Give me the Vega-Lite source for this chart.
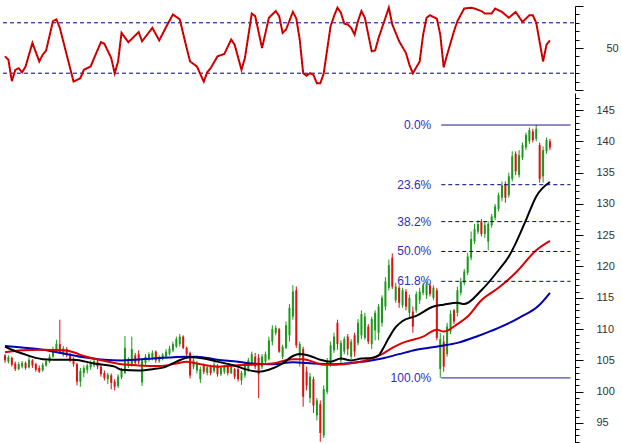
{
"$schema":"https://vega.github.io/schema/vega-lite/v6.json",
"background":"white",
"padding":{"left":0,"right":0,"top":3,"bottom":0},
"spacing":2,
"config":{"view":{"stroke":null},"axis":{"labelFont":"Liberation Sans","labelFontSize":11,"labelColor":"#333333"}},
"datasets":{
"ohlc":[
{"i":0,"o":105.8,"h":106.0,"l":104.6,"c":105.0},
{"i":1,"o":104.8,"h":105.8,"l":104.5,"c":105.5},
{"i":2,"o":105.4,"h":105.6,"l":104.0,"c":104.3},
{"i":3,"o":104.5,"h":104.8,"l":103.3,"c":103.6},
{"i":4,"o":103.6,"h":104.7,"l":103.4,"c":104.4},
{"i":5,"o":104.0,"h":104.9,"l":103.7,"c":104.6},
{"i":6,"o":104.6,"h":104.8,"l":103.5,"c":103.8},
{"i":7,"o":103.9,"h":105.6,"l":103.7,"c":105.1},
{"i":8,"o":105.0,"h":105.2,"l":103.8,"c":104.2},
{"i":9,"o":104.4,"h":104.6,"l":103.2,"c":103.5},
{"i":10,"o":103.8,"h":104.2,"l":103.0,"c":103.2},
{"i":11,"o":103.4,"h":104.6,"l":103.2,"c":104.3},
{"i":12,"o":104.2,"h":105.2,"l":104.0,"c":104.9},
{"i":13,"o":104.8,"h":106.0,"l":104.6,"c":105.6},
{"i":14,"o":105.6,"h":107.2,"l":105.4,"c":106.8},
{"i":15,"o":106.5,"h":108.3,"l":106.2,"c":107.6},
{"i":16,"o":107.6,"h":111.5,"l":106.0,"c":106.2},
{"i":17,"o":106.0,"h":107.3,"l":105.6,"c":106.9},
{"i":18,"o":106.8,"h":107.1,"l":105.5,"c":105.9},
{"i":19,"o":106.0,"h":106.2,"l":104.7,"c":105.0},
{"i":20,"o":105.2,"h":105.5,"l":104.0,"c":104.4},
{"i":21,"o":104.4,"h":104.6,"l":101.0,"c":101.6},
{"i":22,"o":101.6,"h":103.8,"l":100.8,"c":103.3},
{"i":23,"o":103.0,"h":104.2,"l":102.3,"c":103.8},
{"i":24,"o":103.5,"h":104.5,"l":102.9,"c":104.2},
{"i":25,"o":103.9,"h":105.0,"l":103.5,"c":104.6},
{"i":26,"o":104.2,"h":105.3,"l":103.9,"c":104.9},
{"i":27,"o":104.8,"h":105.1,"l":103.6,"c":104.0},
{"i":28,"o":104.0,"h":104.3,"l":102.4,"c":102.8},
{"i":29,"o":103.0,"h":103.4,"l":101.8,"c":102.2},
{"i":30,"o":102.0,"h":103.0,"l":101.2,"c":102.7},
{"i":31,"o":102.6,"h":102.9,"l":100.4,"c":101.4},
{"i":32,"o":101.6,"h":102.0,"l":100.2,"c":100.8},
{"i":33,"o":100.9,"h":102.8,"l":100.6,"c":102.4},
{"i":34,"o":102.3,"h":103.8,"l":102.0,"c":103.4},
{"i":35,"o":103.0,"h":108.9,"l":102.8,"c":107.0},
{"i":36,"o":104.2,"h":105.5,"l":103.8,"c":105.0},
{"i":37,"o":104.3,"h":108.8,"l":104.0,"c":106.8},
{"i":38,"o":105.8,"h":106.2,"l":104.3,"c":104.6},
{"i":39,"o":106.0,"h":106.6,"l":104.4,"c":104.8},
{"i":40,"o":101.5,"h":105.3,"l":100.9,"c":105.0},
{"i":41,"o":104.6,"h":106.0,"l":104.3,"c":105.6},
{"i":42,"o":105.2,"h":106.3,"l":104.8,"c":106.0},
{"i":43,"o":105.5,"h":106.6,"l":105.0,"c":106.2},
{"i":44,"o":106.4,"h":106.6,"l":104.6,"c":105.0},
{"i":45,"o":104.9,"h":105.8,"l":104.6,"c":105.5},
{"i":46,"o":105.2,"h":106.2,"l":105.0,"c":105.9},
{"i":47,"o":105.6,"h":106.8,"l":105.4,"c":106.4},
{"i":48,"o":106.0,"h":107.3,"l":105.8,"c":106.9},
{"i":49,"o":106.6,"h":108.0,"l":106.3,"c":107.6},
{"i":50,"o":107.2,"h":108.8,"l":107.0,"c":108.4},
{"i":51,"o":107.6,"h":109.2,"l":107.2,"c":108.8},
{"i":52,"o":108.8,"h":109.0,"l":106.8,"c":107.0},
{"i":53,"o":107.0,"h":107.2,"l":105.6,"c":106.0},
{"i":54,"o":106.2,"h":106.4,"l":102.1,"c":102.6},
{"i":55,"o":104.0,"h":105.3,"l":103.6,"c":105.0},
{"i":56,"o":103.4,"h":104.9,"l":102.9,"c":104.6},
{"i":57,"o":102.0,"h":104.0,"l":101.4,"c":103.6},
{"i":58,"o":104.2,"h":104.5,"l":102.8,"c":103.2},
{"i":59,"o":103.0,"h":104.2,"l":102.6,"c":103.9},
{"i":60,"o":104.0,"h":104.3,"l":102.6,"c":103.0},
{"i":61,"o":103.3,"h":104.7,"l":103.0,"c":104.3},
{"i":62,"o":104.2,"h":104.4,"l":102.4,"c":102.8},
{"i":63,"o":102.8,"h":104.1,"l":102.5,"c":103.8},
{"i":64,"o":103.2,"h":104.3,"l":102.8,"c":104.0},
{"i":65,"o":104.0,"h":104.2,"l":102.6,"c":103.0},
{"i":66,"o":103.0,"h":104.4,"l":102.8,"c":104.0},
{"i":67,"o":103.6,"h":103.8,"l":102.0,"c":102.4},
{"i":68,"o":103.6,"h":104.3,"l":101.6,"c":102.0},
{"i":69,"o":101.8,"h":103.3,"l":101.1,"c":103.0},
{"i":70,"o":102.6,"h":104.6,"l":102.2,"c":104.2},
{"i":71,"o":103.6,"h":105.4,"l":103.2,"c":105.0},
{"i":72,"o":104.6,"h":106.4,"l":104.2,"c":106.0},
{"i":73,"o":105.6,"h":106.2,"l":103.6,"c":104.0},
{"i":74,"o":105.4,"h":106.0,"l":99.0,"c":102.8},
{"i":75,"o":104.0,"h":106.0,"l":103.6,"c":105.6},
{"i":76,"o":104.8,"h":106.4,"l":104.4,"c":106.0},
{"i":77,"o":105.2,"h":108.8,"l":105.0,"c":108.2},
{"i":78,"o":108.0,"h":110.6,"l":107.4,"c":110.0},
{"i":79,"o":109.4,"h":110.6,"l":109.0,"c":110.2},
{"i":80,"o":110.0,"h":110.2,"l":106.2,"c":106.4},
{"i":81,"o":105.6,"h":107.5,"l":105.2,"c":107.2},
{"i":82,"o":107.0,"h":111.2,"l":106.8,"c":110.6},
{"i":83,"o":109.0,"h":114.0,"l":108.0,"c":113.4},
{"i":84,"o":112.0,"h":117.0,"l":111.5,"c":116.0},
{"i":85,"o":116.2,"h":116.8,"l":107.0,"c":107.4},
{"i":86,"o":105.6,"h":108.0,"l":104.0,"c":107.6},
{"i":87,"o":106.8,"h":107.2,"l":97.6,"c":99.2},
{"i":88,"o":103.2,"h":104.0,"l":100.2,"c":101.0},
{"i":89,"o":99.0,"h":103.0,"l":98.2,"c":102.4},
{"i":90,"o":102.0,"h":102.4,"l":96.6,"c":97.8},
{"i":91,"o":96.2,"h":99.0,"l":95.4,"c":98.6},
{"i":92,"o":98.0,"h":98.6,"l":92.0,"c":93.4},
{"i":93,"o":93.0,"h":101.0,"l":92.6,"c":100.4},
{"i":94,"o":100.0,"h":105.4,"l":99.6,"c":104.8},
{"i":95,"o":104.6,"h":108.0,"l":104.0,"c":107.4},
{"i":96,"o":106.6,"h":109.4,"l":106.2,"c":108.8},
{"i":97,"o":111.0,"h":111.5,"l":106.7,"c":107.6},
{"i":98,"o":105.0,"h":108.2,"l":104.4,"c":107.8},
{"i":99,"o":106.4,"h":108.8,"l":106.0,"c":108.4},
{"i":100,"o":108.8,"h":109.2,"l":105.8,"c":106.8},
{"i":101,"o":105.6,"h":108.4,"l":105.2,"c":108.0},
{"i":102,"o":109.0,"h":109.4,"l":105.6,"c":106.4},
{"i":103,"o":107.8,"h":111.6,"l":107.4,"c":111.0},
{"i":104,"o":109.0,"h":113.0,"l":108.4,"c":112.4},
{"i":105,"o":108.6,"h":112.6,"l":108.3,"c":112.0},
{"i":106,"o":110.4,"h":110.8,"l":107.6,"c":108.0},
{"i":107,"o":107.6,"h":112.0,"l":106.8,"c":111.6},
{"i":108,"o":109.8,"h":113.0,"l":108.2,"c":112.6},
{"i":109,"o":109.4,"h":114.0,"l":108.2,"c":113.6},
{"i":110,"o":111.0,"h":115.4,"l":110.4,"c":115.0},
{"i":111,"o":113.6,"h":118.3,"l":113.0,"c":117.6},
{"i":112,"o":116.6,"h":121.1,"l":116.2,"c":120.2},
{"i":113,"o":121.4,"h":122.1,"l":116.4,"c":116.8},
{"i":114,"o":114.6,"h":117.4,"l":114.2,"c":116.8},
{"i":115,"o":116.6,"h":117.0,"l":113.4,"c":114.2},
{"i":116,"o":113.8,"h":116.6,"l":113.4,"c":116.2},
{"i":117,"o":116.0,"h":116.4,"l":113.0,"c":113.6},
{"i":118,"o":112.6,"h":115.5,"l":111.8,"c":115.0},
{"i":119,"o":112.8,"h":113.6,"l":109.4,"c":110.4},
{"i":120,"o":113.0,"h":116.0,"l":112.6,"c":115.6},
{"i":121,"o":114.6,"h":116.6,"l":114.0,"c":116.0},
{"i":122,"o":115.8,"h":117.4,"l":115.4,"c":117.0},
{"i":123,"o":115.4,"h":117.6,"l":114.8,"c":117.2},
{"i":124,"o":117.0,"h":117.3,"l":115.2,"c":115.6},
{"i":125,"o":115.0,"h":117.0,"l":114.6,"c":116.6},
{"i":126,"o":116.2,"h":116.6,"l":108.2,"c":108.6},
{"i":127,"o":103.6,"h":109.4,"l":102.2,"c":108.4},
{"i":128,"o":108.0,"h":109.0,"l":103.2,"c":104.0},
{"i":129,"o":106.0,"h":111.0,"l":105.6,"c":110.4},
{"i":130,"o":109.6,"h":113.0,"l":109.2,"c":112.4},
{"i":131,"o":113.0,"h":113.2,"l":110.8,"c":111.2},
{"i":132,"o":112.6,"h":116.8,"l":112.0,"c":116.2},
{"i":133,"o":115.8,"h":118.2,"l":115.4,"c":117.6},
{"i":134,"o":117.4,"h":119.6,"l":117.0,"c":119.2},
{"i":135,"o":119.0,"h":122.2,"l":118.6,"c":121.6},
{"i":136,"o":121.4,"h":125.6,"l":121.0,"c":124.4},
{"i":137,"o":124.0,"h":126.8,"l":123.6,"c":126.0},
{"i":138,"o":125.6,"h":127.4,"l":125.2,"c":126.8},
{"i":139,"o":127.2,"h":127.6,"l":124.8,"c":125.2},
{"i":140,"o":125.2,"h":127.2,"l":124.6,"c":126.6},
{"i":141,"o":124.0,"h":127.2,"l":122.6,"c":126.8},
{"i":142,"o":126.6,"h":128.4,"l":126.2,"c":128.0},
{"i":143,"o":127.8,"h":130.0,"l":127.4,"c":129.6},
{"i":144,"o":129.2,"h":131.8,"l":128.8,"c":131.4},
{"i":145,"o":131.0,"h":133.6,"l":130.4,"c":133.0},
{"i":146,"o":133.2,"h":133.6,"l":130.2,"c":131.0},
{"i":147,"o":131.4,"h":135.0,"l":131.0,"c":134.4},
{"i":148,"o":134.0,"h":138.4,"l":133.6,"c":137.6},
{"i":149,"o":138.0,"h":138.4,"l":134.6,"c":135.2},
{"i":150,"o":134.6,"h":138.6,"l":134.2,"c":137.8},
{"i":151,"o":137.4,"h":139.8,"l":137.0,"c":139.4},
{"i":152,"o":139.0,"h":141.4,"l":138.6,"c":141.0},
{"i":153,"o":140.0,"h":142.2,"l":139.6,"c":141.8},
{"i":154,"o":141.6,"h":142.0,"l":139.8,"c":140.2},
{"i":155,"o":140.4,"h":142.6,"l":140.0,"c":142.0},
{"i":156,"o":139.4,"h":139.8,"l":133.4,"c":134.0},
{"i":157,"o":134.4,"h":139.2,"l":133.4,"c":138.6},
{"i":158,"o":138.4,"h":140.6,"l":138.0,"c":140.2},
{"i":159,"o":140.0,"h":140.4,"l":138.6,"c":139.0}
],
"stoch":[
{"i":0,"k":40},{"i":1,"k":36},{"i":2,"k":10.5},{"i":3,"k":24},{"i":4,"k":26},{"i":5,"k":21},{"i":6,"k":28},{"i":8,"k":56},{"i":10,"k":34},{"i":11,"k":42},{"i":12,"k":47},{"i":14,"k":82},{"i":15,"k":84},{"i":16,"k":74},{"i":18,"k":42},{"i":20,"k":10},{"i":22,"k":14},{"i":23,"k":24},{"i":25,"k":28},{"i":26,"k":38},{"i":28,"k":57},{"i":29,"k":55},{"i":31,"k":38},{"i":32,"k":20},{"i":33,"k":34},{"i":34,"k":68},{"i":36,"k":57},{"i":39,"k":69},{"i":40,"k":58},{"i":43,"k":74},{"i":45,"k":59},{"i":47,"k":75},{"i":49,"k":90},{"i":51,"k":84},{"i":53,"k":50},{"i":54,"k":34},{"i":56,"k":28},{"i":58,"k":10},{"i":59,"k":21},{"i":60,"k":26},{"i":62,"k":40},{"i":64,"k":43},{"i":66,"k":60},{"i":67,"k":54},{"i":69,"k":24},{"i":70,"k":38},{"i":72,"k":91},{"i":73,"k":88},{"i":75,"k":50},{"i":76,"k":68},{"i":77,"k":86},{"i":79,"k":94},{"i":80,"k":88},{"i":81,"k":68},{"i":82,"k":72},{"i":84,"k":93},{"i":85,"k":85},{"i":86,"k":60},{"i":87,"k":20},{"i":88,"k":17},{"i":89,"k":20},{"i":90,"k":18},{"i":91,"k":8},{"i":92,"k":8},{"i":93,"k":20},{"i":95,"k":76},{"i":96,"k":88},{"i":97,"k":98},{"i":98,"k":92},{"i":99,"k":79},{"i":100,"k":78},{"i":101,"k":74},{"i":102,"k":66},{"i":103,"k":82},{"i":104,"k":94},{"i":105,"k":86},{"i":107,"k":46},{"i":108,"k":47},{"i":109,"k":62},{"i":111,"k":86},{"i":112,"k":98},{"i":113,"k":78},{"i":115,"k":58},{"i":117,"k":44},{"i":118,"k":30},{"i":119,"k":20},{"i":121,"k":34},{"i":122,"k":66},{"i":123,"k":86},{"i":124,"k":89},{"i":126,"k":85},{"i":127,"k":66},{"i":128,"k":27},{"i":129,"k":42},{"i":131,"k":70},{"i":132,"k":82},{"i":134,"k":97},{"i":136,"k":98},{"i":137,"k":97},{"i":139,"k":94},{"i":140,"k":91},{"i":142,"k":91},{"i":143,"k":97},{"i":145,"k":93},{"i":147,"k":86},{"i":149,"k":93},{"i":151,"k":81},{"i":153,"k":89},{"i":154,"k":89},{"i":155,"k":80},{"i":157,"k":34},{"i":158,"k":54},{"i":159,"k":59}
],
"ma":[
{"s":"b","i":0,"v":107.3},{"s":"b","i":11,"v":106.7},{"s":"b","i":23,"v":105.5},{"s":"b","i":29,"v":105.1},{"s":"b","i":34,"v":105.0},{"s":"b","i":43,"v":105.3},{"s":"b","i":53,"v":105.6},{"s":"b","i":56,"v":105.6},{"s":"b","i":62,"v":105.1},{"s":"b","i":68,"v":104.8},{"s":"b","i":72,"v":104.5},{"s":"b","i":78,"v":104.4},{"s":"b","i":84,"v":104.7},{"s":"b","i":90,"v":104.5},{"s":"b","i":96,"v":104.4},{"s":"b","i":101,"v":104.6},{"s":"b","i":106,"v":104.9},{"s":"b","i":110,"v":105.3},{"s":"b","i":115,"v":106.0},{"s":"b","i":120,"v":106.7},{"s":"b","i":127,"v":107.3},{"s":"b","i":132,"v":107.8},{"s":"b","i":138,"v":108.9},{"s":"b","i":144,"v":110.2},{"s":"b","i":150,"v":111.8},{"s":"b","i":156,"v":113.9},{"s":"b","i":159,"v":115.8},
{"s":"r","i":0,"v":106.3},{"s":"r","i":5,"v":106.6},{"s":"r","i":11,"v":106.7},{"s":"r","i":17,"v":106.6},{"s":"r","i":20,"v":106.3},{"s":"r","i":23,"v":105.7},{"s":"r","i":29,"v":104.9},{"s":"r","i":34,"v":104.4},{"s":"r","i":39,"v":104.2},{"s":"r","i":45,"v":104.1},{"s":"r","i":50,"v":104.5},{"s":"r","i":53,"v":104.8},{"s":"r","i":56,"v":104.5},{"s":"r","i":62,"v":104.0},{"s":"r","i":67,"v":104.2},{"s":"r","i":72,"v":104.3},{"s":"r","i":78,"v":104.5},{"s":"r","i":84,"v":105.2},{"s":"r","i":87,"v":105.2},{"s":"r","i":93,"v":104.3},{"s":"r","i":99,"v":104.4},{"s":"r","i":102,"v":104.6},{"s":"r","i":106,"v":105.1},{"s":"r","i":110,"v":106.0},{"s":"r","i":113,"v":107.0},{"s":"r","i":116,"v":107.8},{"s":"r","i":122,"v":108.8},{"s":"r","i":126,"v":109.9},{"s":"r","i":128,"v":109.6},{"s":"r","i":132,"v":110.8},{"s":"r","i":135,"v":112.0},{"s":"r","i":139,"v":114.6},{"s":"r","i":144,"v":116.6},{"s":"r","i":149,"v":119.0},{"s":"r","i":155,"v":122.6},{"s":"r","i":159,"v":124.1},
{"s":"k","i":0,"v":107.2},{"s":"k","i":2,"v":106.7},{"s":"k","i":5,"v":106.1},{"s":"k","i":11,"v":105.2},{"s":"k","i":17,"v":105.1},{"s":"k","i":20,"v":105.1},{"s":"k","i":26,"v":104.5},{"s":"k","i":32,"v":104.0},{"s":"k","i":34,"v":103.5},{"s":"k","i":39,"v":103.4},{"s":"k","i":43,"v":103.6},{"s":"k","i":47,"v":104.0},{"s":"k","i":50,"v":104.8},{"s":"k","i":54,"v":105.5},{"s":"k","i":58,"v":105.3},{"s":"k","i":62,"v":104.8},{"s":"k","i":66,"v":104.3},{"s":"k","i":68,"v":104.0},{"s":"k","i":70,"v":103.6},{"s":"k","i":74,"v":103.2},{"s":"k","i":77,"v":103.5},{"s":"k","i":81,"v":104.5},{"s":"k","i":84,"v":105.7},{"s":"k","i":86,"v":106.0},{"s":"k","i":89,"v":105.7},{"s":"k","i":92,"v":105.1},{"s":"k","i":95,"v":104.8},{"s":"k","i":98,"v":105.3},{"s":"k","i":101,"v":105.0},{"s":"k","i":104,"v":105.3},{"s":"k","i":107,"v":105.4},{"s":"k","i":109,"v":105.8},{"s":"k","i":110,"v":106.6},{"s":"k","i":112,"v":108.6},{"s":"k","i":114,"v":110.3},{"s":"k","i":116,"v":111.3},{"s":"k","i":120,"v":112.1},{"s":"k","i":125,"v":113.6},{"s":"k","i":128,"v":113.9},{"s":"k","i":132,"v":114.2},{"s":"k","i":134,"v":114.0},{"s":"k","i":139,"v":116.2},{"s":"k","i":144,"v":119.4},{"s":"k","i":147,"v":121.6},{"s":"k","i":149,"v":123.7},{"s":"k","i":152,"v":127.4},{"s":"k","i":155,"v":131.2},{"s":"k","i":159,"v":133.5}
],
"fib":[
{"lab":"0.0%","v":142.6,"t":"solid"},{"lab":"23.6%","v":133.07,"t":"dash"},{"lab":"38.2%","v":127.17,"t":"dash"},{"lab":"50.0%","v":122.4,"t":"dash"},{"lab":"61.8%","v":117.63,"t":"dash"},{"lab":"100.0%","v":102.2,"t":"solid"}
],
"band":[{"lv":80},{"lv":20}]
},
"vconcat":[
{
"width":622,"height":84,
"layer":[
{"data":{"name":"band"},"mark":{"type":"rule","color":"#000080","strokeDash":[4,3],"strokeWidth":1},
 "encoding":{"x":{"datum":-0.58,"type":"quantitative","scale":{"domain":[-0.58,180.9],"nice":false,"zero":false},"axis":null},"x2":{"datum":166.2},
 "y":{"field":"lv","type":"quantitative","scale":{"domain":[0,100],"nice":false,"zero":false},"axis":{"orient":"right","offset":-50,"values":[10,20,30,40,60,70,80,90],"tickSize":4,"labels":false,"domain":false,"grid":false,"title":null,"tickColor":"#000000"}}}},
{"data":{"name":"stoch"},"mark":{"type":"line","color":"#e00000","strokeWidth":2},
 "encoding":{"x":{"field":"i","type":"quantitative","scale":{"domain":[-0.58,180.9],"nice":false,"zero":false},"axis":{"orient":"bottom","offset":2,"domainColor":"#808080","domainWidth":2,"ticks":false,"labels":false,"grid":false,"title":null}},
 "y":{"field":"k","type":"quantitative","scale":{"domain":[0,100],"nice":false,"zero":false},"axis":{"orient":"right","offset":-50,"values":[0,50,100],"tickSize":8,"labelPadding":23,"labelExpr":"datum.value == 50 ? '50' : ''","grid":false,"title":null,"domainColor":"#000000","tickColor":"#000000"}}}},
{"data":{"name":"stoch"},"mark":{"type":"line","color":"#000000","strokeWidth":0.6,"strokeDash":[1,3]},
 "encoding":{"x":{"field":"i","type":"quantitative","scale":{"domain":[-0.58,180.9],"nice":false,"zero":false},"axis":null},
 "y":{"field":"k","type":"quantitative","scale":{"domain":[0,100],"nice":false,"zero":false},"axis":null}}}
],
"resolve":{"axis":{"y":"independent"}}
},
{
"width":622,"height":350,
"layer":[
{"data":{"name":"ohlc"},"mark":{"type":"rule","strokeWidth":1},
 "encoding":{"x":{"field":"i","type":"quantitative","scale":{"domain":[-0.58,180.9],"nice":false,"zero":false},"axis":null},
 "y":{"field":"l","type":"quantitative","scale":{"domain":[91.8,147.72],"nice":false,"zero":false},"axis":{"orient":"right","offset":-50,"values":[95,100,105,110,115,120,125,130,135,140,145],"tickSize":8,"labelPadding":13,"grid":false,"title":null,"domainColor":"#000000","tickColor":"#000000"}},
 "y2":{"field":"h"},
 "color":{"condition":{"test":"datum.c >= datum.o","value":"#1a9a1a"},"value":"#dd1111"}}},
{"data":{"name":"ohlc"},"mark":{"type":"rule","strokeWidth":2},
 "encoding":{"x":{"field":"i","type":"quantitative","scale":{"domain":[-0.58,180.9],"nice":false,"zero":false},"axis":null},
 "y":{"field":"o","type":"quantitative","scale":{"domain":[91.8,147.72],"nice":false,"zero":false},"axis":{"orient":"right","offset":-50,"values":[92,93,94,96,97,98,99,101,102,103,104,106,107,108,109,111,112,113,114,116,117,118,119,121,122,123,124,126,127,128,129,131,132,133,134,136,137,138,139,141,142,143,144,146,147],"tickSize":4,"labels":false,"domain":false,"grid":false,"title":null,"tickColor":"#000000"}},
 "y2":{"field":"c"},
 "color":{"condition":{"test":"datum.c >= datum.o","value":"#1a9a1a"},"value":"#dd1111"}}},
{"data":{"name":"ma"},"mark":{"type":"line","strokeWidth":2,"interpolate":"monotone"},
 "encoding":{"x":{"field":"i","type":"quantitative","scale":{"domain":[-0.58,180.9],"nice":false,"zero":false},"axis":null},
 "y":{"field":"v","type":"quantitative","scale":{"domain":[91.8,147.72],"nice":false,"zero":false},"axis":null},
 "color":{"field":"s","type":"nominal","scale":{"domain":["b","r","k"],"range":["#0000b4","#dd0000","#000000"]},"legend":null}}},
{"data":{"name":"fib"},"mark":{"type":"rule","color":"#000080","strokeWidth":1},
 "encoding":{"x":{"datum":127.3,"type":"quantitative","axis":null},"x2":{"datum":165},
 "y":{"field":"v","type":"quantitative","scale":{"domain":[91.8,147.72],"nice":false,"zero":false},"axis":null},
 "strokeDash":{"field":"t","type":"nominal","scale":{"domain":["solid","dash"],"range":[[1,0],[4,3]]},"legend":null}}},
{"data":{"name":"fib"},"mark":{"type":"text","align":"right","baseline":"middle","dx":-10,"font":"Liberation Sans","fontSize":12,"color":"#3030b8"},
 "encoding":{"x":{"datum":127.3,"type":"quantitative","axis":null},
 "y":{"field":"v","type":"quantitative","scale":{"domain":[91.8,147.72],"nice":false,"zero":false},"axis":null},
 "text":{"field":"lab"}}}
],
"resolve":{"axis":{"y":"independent"}}
}
]
}
